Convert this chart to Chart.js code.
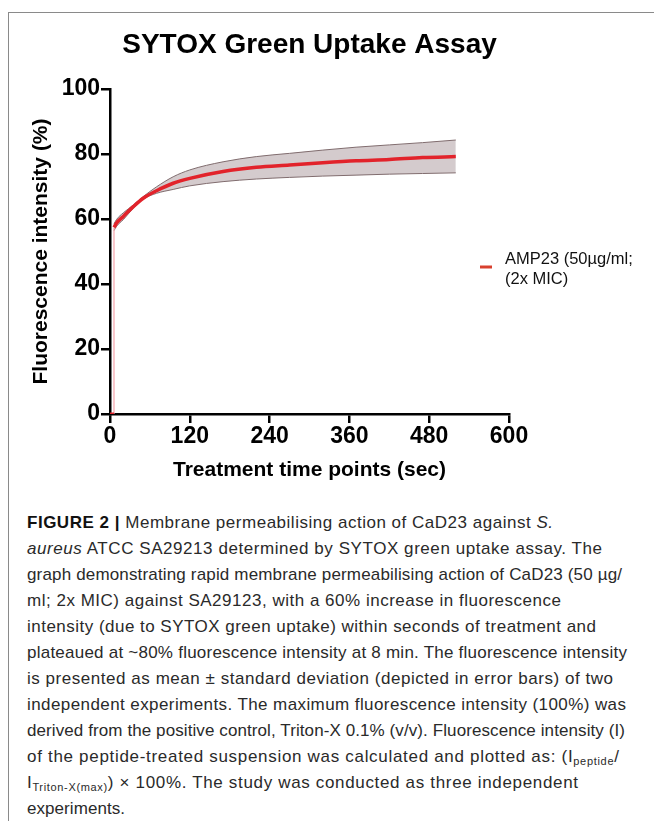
<!DOCTYPE html>
<html><head><meta charset="utf-8">
<script src="https://cdn.jsdelivr.net/npm/chart.js@4.4.0/dist/chart.umd.min.js"></script>
<style>
html,body{margin:0;padding:0;background:#fff;}
body{width:654px;height:821px;position:relative;overflow:hidden;font-family:"Liberation Sans",Arial,sans-serif;}
#frame{position:absolute;left:8px;top:12px;width:660px;height:820px;border-left:1px solid #8a8a8a;border-top:1px solid #8a8a8a;}
#wrap{position:absolute;left:0;top:0;width:654px;height:495px;}
#cap{position:absolute;left:27px;top:0;color:#2a2a2a;font-size:17px;}
.ln{position:absolute;left:0;white-space:nowrap;line-height:20px;}
.ln b{color:#111;}
sub{font-size:11px;vertical-align:-3px;line-height:0;}
</style></head>
<body>
<div id="frame"></div>
<div id="wrap"><canvas id="c" width="654" height="495"></canvas></div>
<div id="cap"></div>
<script>
// ---- data ----
const chartTitle = 'SYTOX Green Uptake Assay';
const xTitle = 'Treatment time points (sec)';
const yTitle = 'Fluorescence intensity (%)';
const legendLines = ['AMP23 (50\u00b5g/ml;', '(2x MIC)'];
const xTicks = [0, 120, 240, 360, 480, 600];
const yTicks = [0, 20, 40, 60, 80, 100];
const timePoints  = [6,    10,   20,   35,   50,   70,   95,   120,  170,  220,  270,  320,  370,  420,  470,  520];
const meanValues  = [57.4, 58.8, 60.8, 63.8, 66.4, 68.7, 71.0, 72.5, 74.6, 75.9, 76.6, 77.3, 77.9, 78.3, 78.9, 79.2];
const upperValues = [58.5, 59.9, 61.9, 64.3, 66.9, 69.9, 73.0, 75.1, 77.6, 79.2, 80.2, 81.2, 82.1, 82.8, 83.5, 84.3];
const lowerValues = [56.4, 57.8, 59.8, 63.3, 66.1, 67.9, 69.1, 70.2, 71.5, 72.3, 72.8, 73.2, 73.5, 73.8, 74.0, 74.2];
const baseTimes = [0, 6];
const baseValues = [0, 0];
const jumpTimes = [6, 6];
const jumpValues = [0, 57.4];

const captionLines = [
  '<b>FIGURE 2 |</b> Membrane permeabilising action of CaD23 against <i>S.</i>',
  '<i>aureus</i> ATCC SA29213 determined by SYTOX green uptake assay. The',
  'graph demonstrating rapid membrane permeabilising action of CaD23 (50 \u00b5g/',
  'ml; 2x MIC) against SA29123, with a 60% increase in fluorescence',
  'intensity (due to SYTOX green uptake) within seconds of treatment and',
  'plateaued at ~80% fluorescence intensity at 8 min. The fluorescence intensity',
  'is presented as mean \u00b1 standard deviation (depicted in error bars) of two',
  'independent experiments. The maximum fluorescence intensity (100%) was',
  'derived from the positive control, Triton-X 0.1% (v/v). Fluorescence intensity (I)',
  'of the peptide-treated suspension was calculated and plotted as: (I<sub>peptide</sub>/',
  'I<sub>Triton-X(max)</sub>) \u00d7 100%. The study was conducted as three independent',
  'experiments.'
];
const captionWidths = [526, 575, 595, 534, 569, 600, 586, 599, 598, 592, 551, 98];

// ---- caption ----
const cap = document.getElementById('cap');
captionLines.forEach((h, i) => {
  const d = document.createElement('div');
  d.className = 'ln';
  d.style.top = (513 + i * 26) + 'px';
  d.innerHTML = h;
  cap.appendChild(d);
});
function fitCaption() {
  const lines = cap.querySelectorAll('.ln');
  lines.forEach((d, i) => {
    d.style.letterSpacing = '0px';
    const w = d.getBoundingClientRect().width;
    const n = d.textContent.length;
    const ls = (captionWidths[i] - w) / Math.max(1, n - 1);
    d.style.letterSpacing = ls.toFixed(3) + 'px';
  });
}
fitCaption();

// ---- chart ----
const FONT = '"Liberation Sans", Arial, sans-serif';
const pts = (xs, ys) => xs.map((x, i) => ({x: x, y: ys[i]}));

const overlay = {
  id: 'overlay',
  afterDraw(chart) {
    const ctx = chart.ctx;
    const a = chart.chartArea;
    ctx.save();
    ctx.fillStyle = '#000';
    ctx.font = 'bold 28px ' + FONT;
    ctx.textAlign = 'center';
    ctx.textBaseline = 'alphabetic';
    ctx.fillText(chartTitle, (a.left + a.right) / 2, 53);
    // legend
    ctx.strokeStyle = '#d8402e';
    ctx.lineWidth = 3;
    ctx.beginPath();
    ctx.moveTo(480, 267);
    ctx.lineTo(492, 267);
    ctx.stroke();
    ctx.fillStyle = '#111';
    ctx.font = '16.5px ' + FONT;
    ctx.textAlign = 'left';
    legendLines.forEach((t, i) => ctx.fillText(t, 505, 264 + i * 20));
    ctx.restore();
  }
};

new Chart(document.getElementById('c'), {
  type: 'line',
  data: {
    datasets: [
      {label: 'mean', data: pts(timePoints, meanValues), borderColor: '#e2232b', borderWidth: 3.5,
       pointRadius: 0, cubicInterpolationMode: 'monotone', fill: false},
      {label: 'base', data: pts(baseTimes, baseValues), borderColor: '#e2232b', borderWidth: 3,
       pointRadius: 0, fill: false},
      {label: 'jump', data: pts(jumpTimes, jumpValues), borderColor: '#f5a3ab', borderWidth: 1.2,
       pointRadius: 0, fill: false},
      {label: 'lower', data: pts(timePoints, lowerValues), borderColor: '#806c6e', borderWidth: 1,
       pointRadius: 0, cubicInterpolationMode: 'monotone', fill: false},
      {label: 'upper', data: pts(timePoints, upperValues), borderColor: '#806c6e', borderWidth: 1,
       pointRadius: 0, cubicInterpolationMode: 'monotone', fill: 3,
       backgroundColor: 'rgba(212,203,205,1)'}
    ]
  },
  options: {
    responsive: false,
    animation: false,
    devicePixelRatio: 1,
    layout: {padding: {left: 0, top: 89, right: 145, bottom: 0}},
    plugins: {legend: {display: false}, tooltip: {enabled: false}, title: {display: false}},
    scales: {
      x: {
        type: 'linear', min: 0, max: 600,
        afterBuildTicks(s) { s.ticks = xTicks.map(v => ({value: v})); },
        ticks: {font: {size: 23, weight: 'bold', family: FONT}, color: '#000', padding: 0, maxRotation: 0},
        grid: {drawOnChartArea: false, drawTicks: true, tickLength: 9, color: '#000', lineWidth: 2.5},
        border: {display: true, color: '#000', width: 2.5},
        title: {display: true, text: xTitle, color: '#000', font: {size: 21, weight: 'bold', family: FONT},
                padding: {top: 0, bottom: 12}},
        afterFit(s) { s.height = 81; }
      },
      y: {
        min: 0, max: 100,
        afterBuildTicks(s) { s.ticks = yTicks.map(v => ({value: v})); },
        ticks: {font: {size: 23, weight: 'bold', family: FONT}, color: '#000', padding: 1},
        grid: {drawOnChartArea: false, drawTicks: true, tickLength: 9, color: '#000', lineWidth: 2.5},
        border: {display: true, color: '#000', width: 2.5},
        title: {display: true, text: yTitle, color: '#000', font: {size: 21, weight: 'bold', family: FONT},
                padding: {top: 29, bottom: 0}},
        afterFit(s) { s.width = 110; }
      }
    }
  },
  plugins: [overlay]
});
</script>
</body></html>
